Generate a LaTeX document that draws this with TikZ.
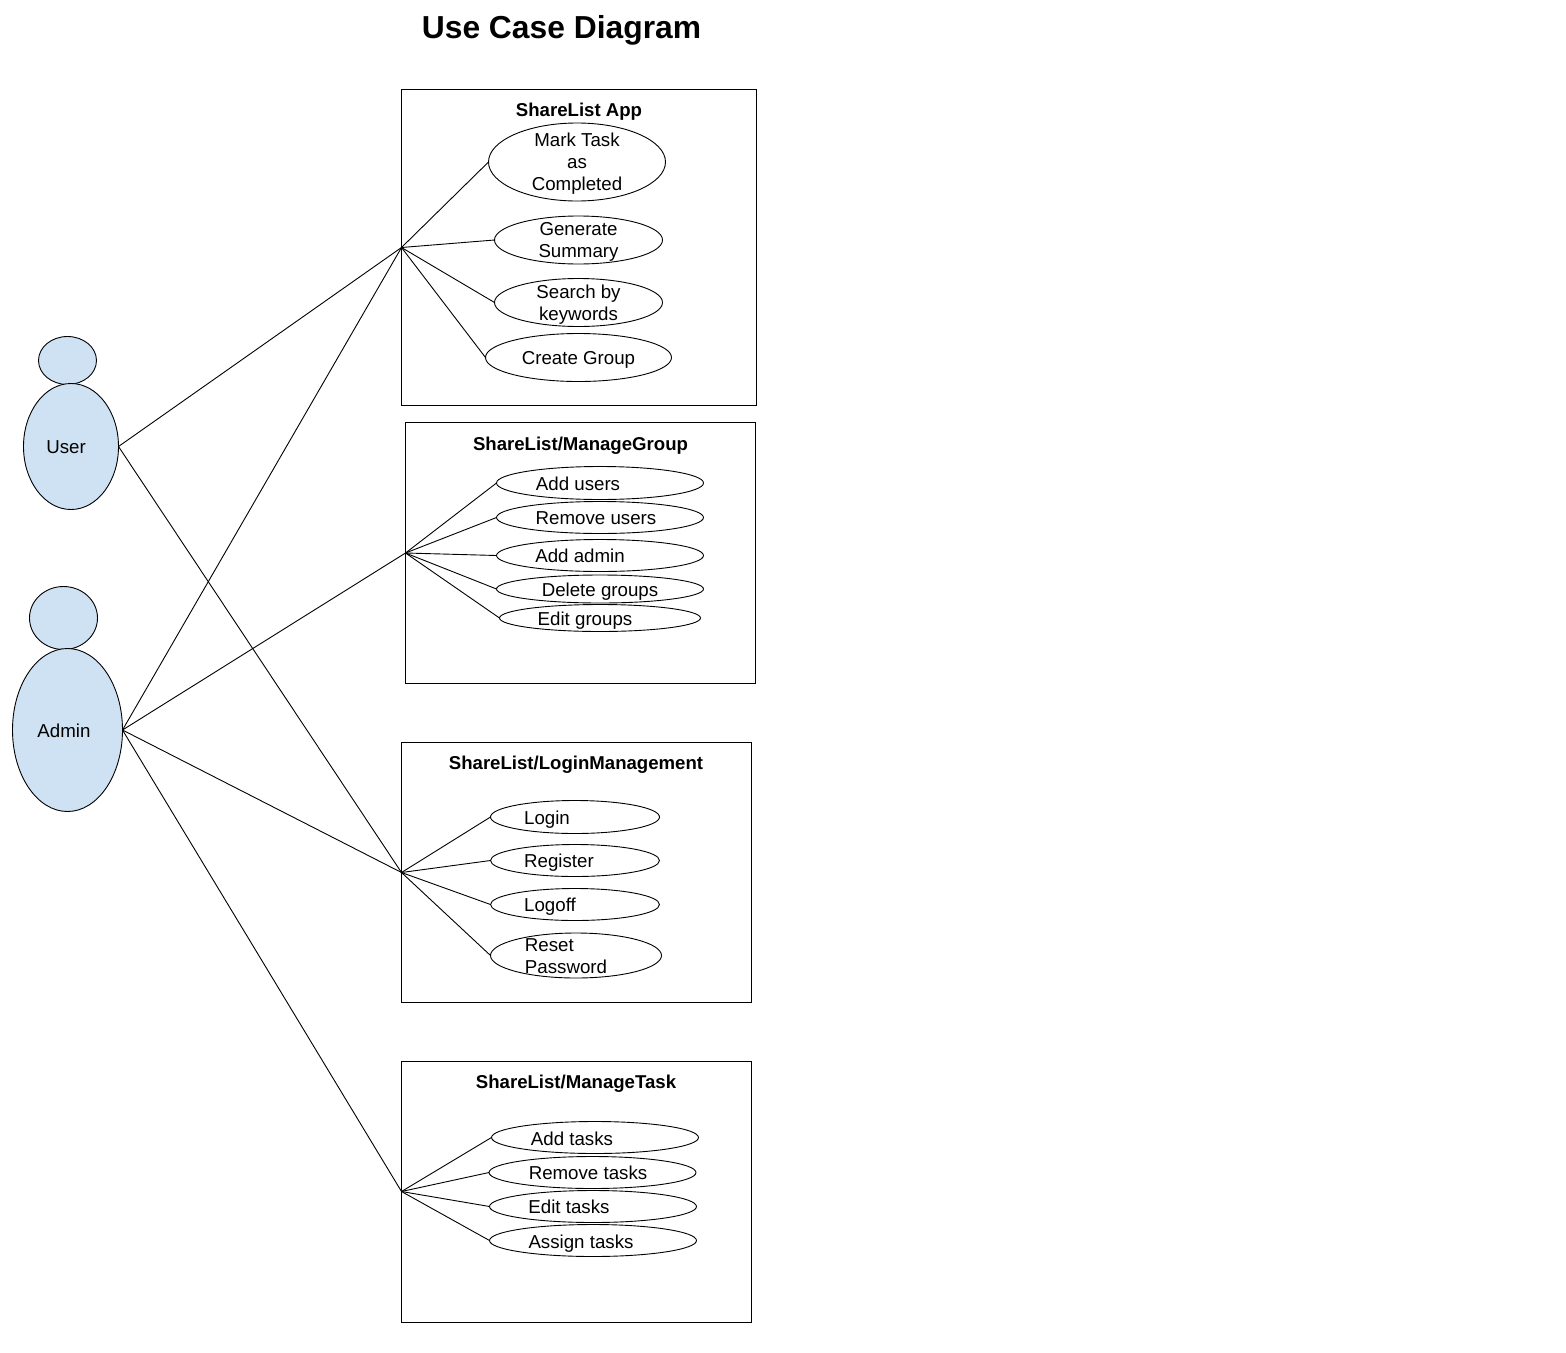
\documentclass[tikz,border=0pt]{standalone}
\usepackage{fontspec}
\setmainfont{Liberation Sans}
\usetikzlibrary{shapes.geometric}
\definecolor{actorblue}{HTML}{CFE2F3}
\tikzset{
  usecase/.style={draw=black,line width=0.9pt,ellipse,inner sep=0pt,outer sep=0pt},
  actorshape/.style={usecase,fill=actorblue},
  boundary/.style={draw=black,line width=0.9pt,inner sep=0pt,outer sep=0pt},
  lbl/.style={font=\fontsize{18.7}{22}\selectfont,align=center,inner sep=0pt,anchor=center,text=black},
  lbll/.style={lbl,align=left},
  head/.style={font=\fontsize{18.6}{22}\selectfont\bfseries,inner sep=0pt,anchor=center,text=black},
  wire/.style={draw=black,line width=0.9pt}
}
\newcommand{\UC}[5]{\node[usecase,minimum width=#4pt,minimum height=#5pt] (#1) at (#2,#3) {};}
\newcommand{\BX}[5]{\node[boundary,minimum width=#4pt,minimum height=#5pt] (#1) at (#2,#3) {};}
\begin{document}
\begin{tikzpicture}[x=1pt,y=-1pt]
\useasboundingbox (0,0) rectangle (1566,1352);
\node[font=\fontsize{31.8}{38}\selectfont\bfseries,inner sep=0pt] (title) at (561.5,30) {Use Case Diagram};
% boundaries
\BX{app}{579}{247.5}{355}{316}
\BX{grp}{580.5}{553}{350}{261}
\BX{log}{576.5}{872.5}{350}{260}
\BX{tsk}{576.5}{1191.5}{350}{261}
\node[head] (apph) at (579,112) {ShareList App};
\node[head] (grph) at (580.5,446) {ShareList/ManageGroup};
\node[head] (logh) at (576,765) {ShareList/LoginManagement};
\node[head] (tskh) at (576,1084) {ShareList/ManageTask};
% actors
\node[actorshape,minimum width=58pt,minimum height=48pt] (uh) at (67.5,360.5) {};
\node[actorshape,minimum width=95pt,minimum height=126pt] (ub) at (71,446.5) {};
\node[actorshape,minimum width=68pt,minimum height=63pt] (ah) at (63.5,618) {};
\node[actorshape,minimum width=110pt,minimum height=163pt] (ab) at (67.5,730) {};
\node[lbl] (ul) at (66,447) {User};
\node[lbl] (al) at (64,731) {Admin};
% use cases
\UC{a1}{577}{162}{177}{78}
\UC{a2}{578.5}{240}{168}{48}
\UC{a3}{578.5}{302.5}{168}{48}
\UC{a4}{578.5}{357.5}{186}{48}
\node[lbl] (a1l) at (577,164) {Mark Task\\as\\Completed};
\node[lbl] (a2l) at (578.5,242) {Generate\\Summary};
\node[lbl] (a3l) at (578.5,305) {Search by\\keywords};
\node[lbl] (a4l) at (578.5,360) {Create Group};
\UC{g1}{600}{483}{207}{33}
\UC{g2}{600}{517.5}{207}{32}
\UC{g3}{600}{555.5}{207}{32}
\UC{g4}{600}{589}{207}{28}
\UC{g5}{600}{618}{201}{27}
\node[lbl] (g1l) at (578,484) {Add users};
\node[lbl] (g2l) at (596,518) {Remove users};
\node[lbl] (g3l) at (580,556) {Add admin};
\node[lbl] (g4l) at (600,592) {Delete groups};
\node[lbl] (g5l) at (585,621) {Edit groups};
\UC{l1}{575}{817}{169}{33}
\UC{l2}{575}{860.5}{169}{32}
\UC{l3}{575}{904.5}{169}{32}
\UC{l4}{576}{955.5}{171}{45}
\node[lbl] (l1l) at (547,820) {Login};
\node[lbl] (l2l) at (559,863) {Register};
\node[lbl] (l3l) at (550,907) {Logoff};
\node[lbll] (l4l) at (566,956) {Reset\\Password};
\UC{t1}{595}{1137.5}{207}{32}
\UC{t2}{592.5}{1172.5}{207}{32}
\UC{t3}{593}{1206.5}{207}{32}
\UC{t4}{593}{1240.5}{207}{32}
\node[lbl] (t1l) at (572,1138.5) {Add tasks};
\node[lbl] (t2l) at (588,1173) {Remove tasks};
\node[lbl] (t3l) at (569,1207) {Edit tasks};
\node[lbl] (t4l) at (581,1244) {Assign tasks};
% connectors
\draw[wire] (app.west) -- (a1.west);
\draw[wire] (app.west) -- (a2.west);
\draw[wire] (app.west) -- (a3.west);
\draw[wire] (app.west) -- (a4.west);
\draw[wire] (grp.west) -- (g1.west);
\draw[wire] (grp.west) -- (g2.west);
\draw[wire] (grp.west) -- (g3.west);
\draw[wire] (grp.west) -- (g4.west);
\draw[wire] (grp.west) -- (g5.west);
\draw[wire] (log.west) -- (l1.west);
\draw[wire] (log.west) -- (l2.west);
\draw[wire] (log.west) -- (l3.west);
\draw[wire] (log.west) -- (l4.west);
\draw[wire] (tsk.west) -- (t1.west);
\draw[wire] (tsk.west) -- (t2.west);
\draw[wire] (tsk.west) -- (t3.west);
\draw[wire] (tsk.west) -- (t4.west);
\draw[wire] (ub.east) -- (app.west);
\draw[wire] (ub.east) -- (log.west);
\draw[wire] (ab.east) -- (app.west);
\draw[wire] (ab.east) -- (grp.west);
\draw[wire] (ab.east) -- (log.west);
\draw[wire] (ab.east) -- (tsk.west);
\end{tikzpicture}
\end{document}
